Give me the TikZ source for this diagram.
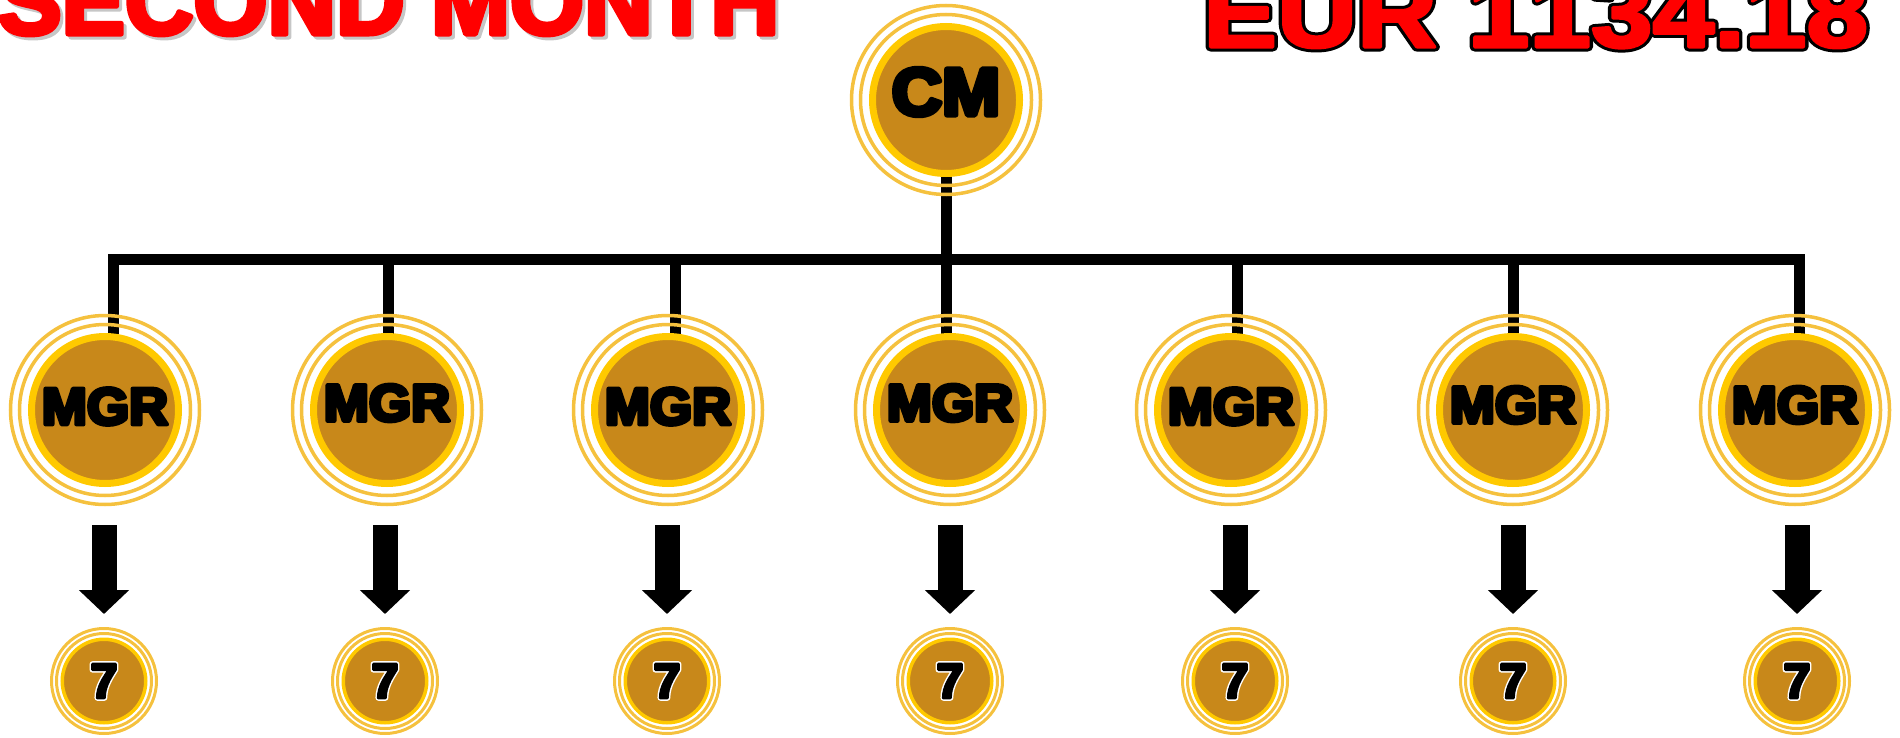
\documentclass[tikz,border=0pt]{standalone}
\usepackage{fontspec}
\setmainfont{Liberation Sans}
\newfontfamily\fbTitle{Liberation Sans}[BoldFeatures={FakeBold=5.3}]
\newfontfamily\fbEurOut{Liberation Sans}[BoldFeatures={FakeBold=9.2}]
\newfontfamily\fbEur{Liberation Sans}[BoldFeatures={FakeBold=3.1}]
\newfontfamily\fbMgr{Liberation Sans}[BoldFeatures={FakeBold=7.7}]
\newfontfamily\fbCm{Liberation Sans}[BoldFeatures={FakeBold=7.5}]
\newfontfamily\fbSevenOut{Liberation Sans}[BoldFeatures={FakeBold=12}]
\newfontfamily\fbSeven{Liberation Sans}[BoldFeatures={FakeBold=6}]
\usepackage{graphicx}
\usetikzlibrary{arrows.meta}
\pgfdeclarelayer{bg}
\pgfsetlayers{bg,main}
\definecolor{disc}{HTML}{C8881A}
\definecolor{ringyellow}{HTML}{FFC900}
\definecolor{thinring}{HTML}{F5C13E}
\definecolor{titlered}{HTML}{FF0000}
\newcommand\roundjoin{\special{pdf:literal direct 1 j}}
\newsavebox\chbox
% one outlined character: black emboldened glyph in a box as wide as the red glyph
\newcommand\blk[1]{\sbox\chbox{\fbEur\bfseries #1}\makebox[\wd\chbox][l]{\textcolor{black}{\fbEurOut\bfseries #1}}}
\newcommand\rd[1]{\sbox\chbox{\fbEur\bfseries #1}\usebox\chbox}
\newcommand\mgrtext[1]{\roundjoin\raisebox{#1pt}[\height][\depth]{\scalebox{1.04}[1]{\fbMgr\bfseries MGR}}}
\newcommand\seventext{\roundjoin\ooalign{\textcolor{white}{\fbSevenOut\bfseries 7}\cr\fbSeven\bfseries 7\cr}}
\begin{document}
\begin{tikzpicture}[x=1pt,y=-1pt,
  bignode/.style={circle, fill=disc, draw=ringyellow, line width=7pt, minimum size=147pt, inner sep=0pt, text=black},
  smallnode/.style={circle, fill=disc, draw=ringyellow, line width=3.5pt, minimum size=83.5pt, inner sep=0pt, text=black},
  bigring/.style={draw=thinring, line width=3.5pt},
  smallring/.style={draw=thinring, line width=3pt},
  conn/.style={line width=11pt, draw=black, line join=miter},
  blockarrow/.style={line width=25pt, draw=black, -{Triangle[width=49pt,length=24pt]}},
  mgrfont/.style={font=\fontsize{52}{52}\selectfont},
  cmfont/.style={font=\fontsize{67}{67}\selectfont},
  sevenfont/.style={font=\fontsize{49}{49}\selectfont},
  titlefont/.style={font=\fbTitle\bfseries\fontsize{95}{95}\selectfont, inner sep=0pt, anchor=base west},
  amountfont/.style={font=\bfseries\fontsize{98}{98}\selectfont, inner sep=0pt, anchor=base west}]
\useasboundingbox (0,0) rectangle (1900,738);
\clip (0,0) rectangle (1900,738);

% titles
\node[titlefont, text=gray!45] (titleshadow) at (1,37) {\roundjoin SECOND MONTH};
\node[titlefont, text=titlered] (title) at (-2,34) {\roundjoin SECOND MONTH};
\node[amountfont, text=titlered] (amount) at (1203,47)
  {\roundjoin\scalebox{1.13}[1]{\ooalign{%
     \blk{E}\blk{U}\blk{R}\blk{\ }\blk{1}\blk{1}\blk{3}\blk{4}\blk{.}\blk{1}\blk{8}\cr
     \rd{E}\rd{U}\rd{R}\rd{\ }\rd{1}\rd{1}\rd{3}\rd{4}\rd{.}\rd{1}\rd{8}\cr}}};

% top node
\node[bignode, cmfont] (cm) at (946,100)
  {\roundjoin\raisebox{8pt}[\height][\depth]{\scalebox{1.04}[1]{\fbCm\bfseries CM}}};

% managers
\foreach \i/\x/\r in {1/105/3.5, 2/387/7, 3/668/3.5, 4/950/7, 5/1231/3.5, 6/1513/5, 7/1795/5}
  \node[bignode, mgrfont] (mgr\i) at (\x,410) {\mgrtext{\r}};

% sevens
\foreach \i/\x in {1/104, 2/385, 3/667, 4/950, 5/1235, 6/1513, 7/1797}
  \node[smallnode, sevenfont] (s\i) at (\x,681) {\seventext};

% thin rings
\foreach \n in {cm,mgr1,mgr2,mgr3,mgr4,mgr5,mgr6,mgr7} {
  \draw[bigring] (\n.center) circle[radius=85.5pt];
  \draw[bigring] (\n.center) circle[radius=94.5pt];
}
\foreach \n in {s1,s2,s3,s4,s5,s6,s7} {
  \draw[smallring] (\n.center) circle[radius=47.5pt];
  \draw[smallring] (\n.center) circle[radius=52.5pt];
}

% connectors
\coordinate (bar) at (946,259);
\begin{pgfonlayer}{bg}
  \draw[conn] (cm.center) -- (cm.center |- bar);
  \draw[conn] ([xshift=8pt]mgr1.center) -- ([xshift=8pt]mgr1.center |- bar)
     -- ([xshift=4pt]mgr7.center |- bar) -- ([xshift=4pt]mgr7.center);
  \foreach \i/\d in {2/1, 3/7, 4/-4, 5/6, 6/0}
    \draw[conn] ([xshift=\d pt]mgr\i.center |- bar) -- ([xshift=\d pt]mgr\i.center);
\end{pgfonlayer}

% block arrows
\foreach \i in {1,...,7}
  \draw[blockarrow, shorten <=38pt, shorten >=23.5pt] (s\i.north |- mgr\i.south) -- (s\i.north);
\end{tikzpicture}
\end{document}
